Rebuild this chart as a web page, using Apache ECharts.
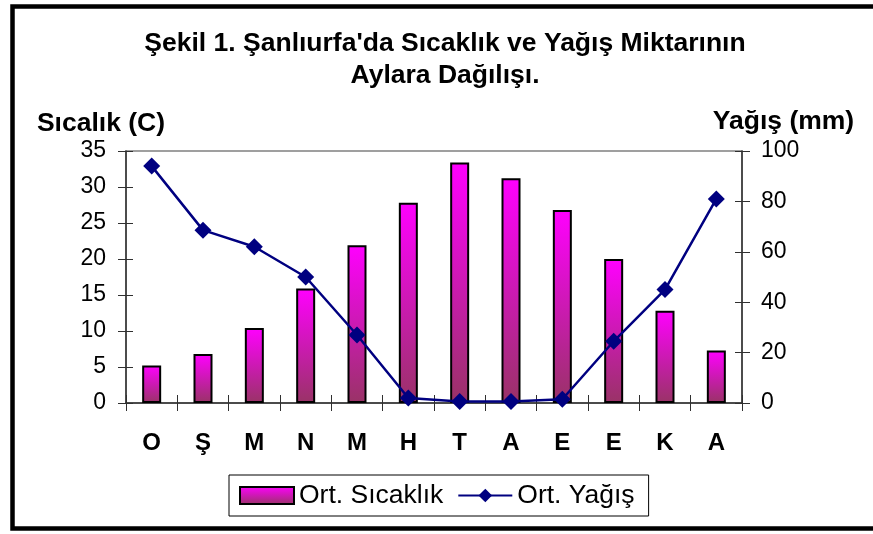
<!DOCTYPE html>
<html>
<head>
<meta charset="utf-8">
<script src="https://cdn.jsdelivr.net/npm/echarts@6/dist/echarts.min.js"></script>
<style>
  html, body { margin: 0; padding: 0; background: #fff; }
  #chart { width: 873px; height: 534px; }
</style>
</head>
<body>
<div id="chart"></div>
<script>
// ---- Data ----
const months = ['O', 'Ş', 'M', 'N', 'M', 'H', 'T', 'A', 'E', 'E', 'K', 'A'];
const temperature = [5.2, 6.8, 10.4, 15.9, 21.9, 27.8, 33.4, 31.2, 26.8, 20.0, 12.8, 7.3];
const precipitation = [94, 68.6, 62, 50, 27, 2, 0.6, 0.6, 1.5, 24.5, 45, 81];
const tempAxis = { min: 0, max: 35, interval: 5 };
const rainAxis = { min: 0, max: 100, interval: 20 };
const titleText = "Şekil 1. Şanlıurfa'da Sıcaklık ve Yağış Miktarının\nAylara Dağılışı.";
const tempName = 'Sıcalık (C)';
const rainName = 'Yağış (mm)';
const seriesNames = ['Ort. Sıcaklık', 'Ort. Yağış'];

const FONT = '"Liberation Sans", Arial, sans-serif';
const chart = echarts.init(document.getElementById('chart'), null, { renderer: 'canvas' });

const barGradient = new echarts.graphic.LinearGradient(0, 0, 0, 1, [
  { offset: 0, color: '#ff00ff' },
  { offset: 1, color: '#993366' }
]);

const axisLineStyle = { color: '#303030', width: 1.5 };
const tickStyle = { color: '#303030', width: 1 };

function innerY(pos, cfg) {
  return {
    type: 'value', position: pos, min: cfg.min, max: cfg.max, interval: cfg.interval,
    axisLine: { show: false },
    axisTick: { show: true, inside: true, length: 7, lineStyle: tickStyle },
    axisLabel: { show: false }, splitLine: { show: false }
  };
}

chart.setOption({
  animation: false,
  backgroundColor: '#fff',
  textStyle: { fontFamily: FONT },
  title: {
    text: titleText,
    left: 440, top: 23, textAlign: 'center',
    textStyle: { fontFamily: FONT, fontWeight: 'bold', fontSize: 26.5, lineHeight: 32, color: '#000' }
  },
  graphic: [
    { type: 'rect', silent: true, shape: { x: 12.5, y: 6.5, width: 900, height: 522 },
      style: { fill: 'none', stroke: '#000', lineWidth: 4.5 } }
  ],
  legend: {
    left: 229, top: 475,
    padding: [7, 14, 7, 10],
    borderColor: '#000', borderWidth: 1, backgroundColor: '#fff',
    itemWidth: 54, itemHeight: 17, itemGap: 14,
    textStyle: { fontFamily: FONT, fontSize: 26.5, color: '#000' },
    data: [{ name: seriesNames[0], icon: 'rect' }, { name: seriesNames[1] }]
  },
  grid: {
    left: 126, right: 131, top: 151, bottom: 131,
    show: true, borderColor: '#808080', borderWidth: 1.5, backgroundColor: 'transparent',
    containLabel: false, outerBoundsMode: 'none'
  },
  xAxis: [
    {
      type: 'category', data: months, position: 'bottom', boundaryGap: true,
      axisLine: { onZero: false, lineStyle: axisLineStyle },
      axisTick: { show: true, length: 8, lineStyle: tickStyle },
      axisLabel: { margin: 28, fontFamily: FONT, fontSize: 24, fontWeight: 'bold', color: '#000' },
      splitLine: { show: false }
    },
    {
      type: 'category', data: months, position: 'bottom', boundaryGap: true,
      axisLine: { show: false, onZero: false },
      axisTick: { show: true, inside: true, length: 8, lineStyle: tickStyle },
      axisLabel: { show: false }, splitLine: { show: false }
    }
  ],
  yAxis: [
    {
      type: 'value', position: 'left', min: tempAxis.min, max: tempAxis.max, interval: tempAxis.interval,
      name: tempName, nameLocation: 'end', nameGap: 14,
      nameTextStyle: { fontFamily: FONT, fontSize: 26.5, fontWeight: 'bold', color: '#000', align: 'center', padding: [0, 50, 0, 0] },
      axisLine: { show: true, lineStyle: axisLineStyle },
      axisTick: { show: true, length: 8, lineStyle: tickStyle },
      axisLabel: { margin: 20, fontFamily: FONT, fontSize: 23, color: '#000' },
      splitLine: { show: false }
    },
    {
      type: 'value', position: 'right', min: rainAxis.min, max: rainAxis.max, interval: rainAxis.interval,
      name: rainName, nameLocation: 'end', nameGap: 16,
      nameTextStyle: { fontFamily: FONT, fontSize: 26.5, fontWeight: 'bold', color: '#000', align: 'center', padding: [0, 0, 0, 83] },
      axisLine: { show: true, lineStyle: axisLineStyle },
      axisTick: { show: true, length: 8, lineStyle: tickStyle },
      axisLabel: { margin: 19, fontFamily: FONT, fontSize: 23, color: '#000' },
      splitLine: { show: false }
    },
    innerY('left', tempAxis),
    innerY('right', rainAxis)
  ],
  series: [
    {
      name: seriesNames[0], type: 'bar', xAxisIndex: 0, yAxisIndex: 0,
      data: temperature, barWidth: 19,
      itemStyle: { color: barGradient, borderColor: '#000', borderWidth: 2 },
      z: 2
    },
    {
      name: seriesNames[1], type: 'line', xAxisIndex: 0, yAxisIndex: 1,
      data: precipitation,
      symbol: 'diamond', symbolSize: [17, 17], showAllSymbol: true,
      lineStyle: { color: '#000080', width: 2.5 },
      itemStyle: { color: '#000080', borderWidth: 0 },
      z: 3
    }
  ]
});
</script>
</body>
</html>
